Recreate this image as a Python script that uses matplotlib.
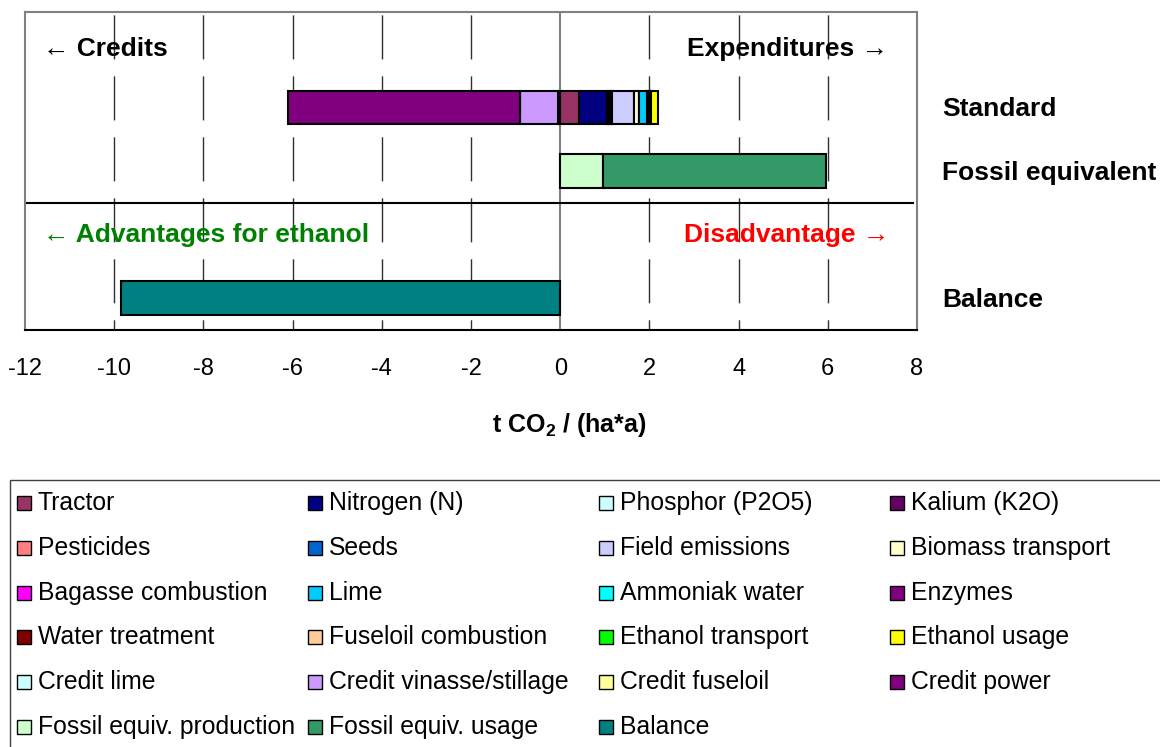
import numpy as np
import matplotlib.pyplot as plt
from matplotlib.patches import Rectangle
from matplotlib.transforms import blended_transform_factory

plt.rcParams['font.family'] = ['Liberation Sans', 'DejaVu Sans']
plt.rcParams['mathtext.fontset'] = 'custom'
plt.rcParams['mathtext.rm'] = 'Liberation Sans'
plt.rcParams['mathtext.bf'] = 'Liberation Sans:bold'

# data (t CO2 per ha and year)
rows = ['Standard', 'Fossil equivalent', 'Balance']

series = ['Tractor', 'Nitrogen (N)', 'Phosphor (P2O5)', 'Kalium (K2O)',
          'Pesticides', 'Seeds', 'Field emissions', 'Biomass transport',
          'Bagasse combustion', 'Lime', 'Ammoniak water', 'Enzymes',
          'Water treatment', 'Fuseloil combustion', 'Ethanol transport', 'Ethanol usage',
          'Credit lime', 'Credit vinasse/stillage', 'Credit fuseloil', 'Credit power',
          'Fossil equiv. production', 'Fossil equiv. usage', 'Balance']

standard = [0.43, 0.62, 0.02, 0.03,
            0.05, 0.02, 0.48, 0.11,
            0.01, 0.17, 0.03, 0.04,
            0.01, 0.005, 0.01, 0.16,
            -0.06, -0.84, -0.01, -5.20,
            0, 0, 0]
fossil = [0, 0, 0, 0,
          0, 0, 0, 0,
          0, 0, 0, 0,
          0, 0, 0, 0,
          0, 0, 0, 0,
          0.95, 5.02, 0]
balance = [0, 0, 0, 0,
           0, 0, 0, 0,
           0, 0, 0, 0,
           0, 0, 0, 0,
           0, 0, 0, 0,
           0, 0, -9.85]

colors = ['#993366', '#000080', '#CCFFFF', '#660066',
          '#FF8080', '#0066CC', '#CCCCFF', '#FFFFCC',
          '#FF00FF', '#00CCFF', '#00FFFF', '#800080',
          '#800000', '#FFCC99', '#00FF00', '#FFFF00',
          '#CCFFFF', '#CC99FF', '#FFFF99', '#800080',
          '#CCFFCC', '#339966', '#008080']

xticks = [-12, -10, -8, -6, -4, -2, 0, 2, 4, 6, 8]

W, H = 1160, 747
fig = plt.figure(figsize=(W / 100, H / 100), dpi=100)
ax = fig.add_axes([25 / W, 1 - 330 / H, 892 / W, 318 / H])

# category slots: 0 = header text, 1/2 = bars, 3 = second header, 4 = balance
slots = np.array([1, 2, 4])
row_vals = [standard, fossil, balance]

pos_left = np.zeros(len(rows))
neg_left = np.zeros(len(rows))
for i, name in enumerate(series):
    vals = np.array([r[i] for r in row_vals], dtype=float)
    lefts = np.where(vals >= 0, pos_left, neg_left)
    m = vals != 0
    if m.any():
        ax.barh(slots[m], vals[m], left=lefts[m], height=0.53, color=colors[i],
                edgecolor='black', linewidth=1.5, zorder=3)
    pos_left += np.clip(vals, 0, None)
    neg_left += np.clip(vals, None, 0)

ax.set_xlim(-12, 8)
ax.set_ylim(4.5, -0.5)
ax.set_yticks([])
ax.set_xticks(xticks)
ax.set_xticklabels([str(t) for t in xticks], fontsize=17)
ax.tick_params(axis='x', length=0, pad=20)

# long-dash gridlines drawn top-down like the original
dash = (41.8, (31.7, 12.2))
ax.vlines([t for t in xticks if t not in (-12, 0, 8)], -0.5, 4.5,
          colors='#303030', linewidth=1, linestyles=[dash], zorder=1)
ax.axvline(0, color='#808080', linewidth=1.5, zorder=2)
ax.axhline(2.5, xmax=0.995, color='black', linewidth=1.5, zorder=2)

for side in ['top', 'left', 'right']:
    ax.spines[side].set_color('#808080')
    ax.spines[side].set_linewidth(1.5)
ax.spines['bottom'].set_color('black')
ax.spines['bottom'].set_linewidth(1.5)

ax.text(-11.6, 0.08, '\u2190 Credits', fontsize=19, fontweight='bold',
        ha='left', va='center')
ax.text(7.35, 0.08, 'Expenditures \u2192', fontsize=19, fontweight='bold',
        ha='right', va='center')
ax.text(-11.6, 3.0, '\u2190 Advantages for ethanol', fontsize=19, fontweight='bold',
        color='#008000', ha='left', va='center')
ax.text(7.38, 3.0, 'Disadvantage \u2192', fontsize=19, fontweight='bold',
        color='#FF0000', ha='right', va='center')

trans = blended_transform_factory(ax.transAxes, ax.transData)
for label, s in zip(rows, slots):
    ax.text(1.028, s + 0.03, label, transform=trans, fontsize=19,
            fontweight='bold', ha='left', va='center')

fig.text(569 / W, 1 - 425 / H, r't CO$_\mathbf{2}$ / (ha*a)', fontsize=18,
         fontweight='bold', ha='center', va='center')

# legend laid out in fixed-width columns, filled row by row
fig.add_artist(Rectangle((10 / W, -0.1), 1.2, (1 - 480 / H) + 0.1,
                         transform=fig.transFigure, fill=False,
                         edgecolor='#404040', linewidth=1))
for i, (name, color) in enumerate(zip(series, colors)):
    r, c = divmod(i, 4)
    x = 17 + 291 * c
    y = 503 + 44.8 * r
    fig.add_artist(Rectangle((x / W, 1 - (y + 7) / H), 14 / W, 14 / H,
                             transform=fig.transFigure, facecolor=color,
                             edgecolor='black', linewidth=1))
    fig.text((x + 21) / W, 1 - y / H, name, fontsize=17.8, ha='left', va='center')

fig.savefig('out.png', dpi=100)
